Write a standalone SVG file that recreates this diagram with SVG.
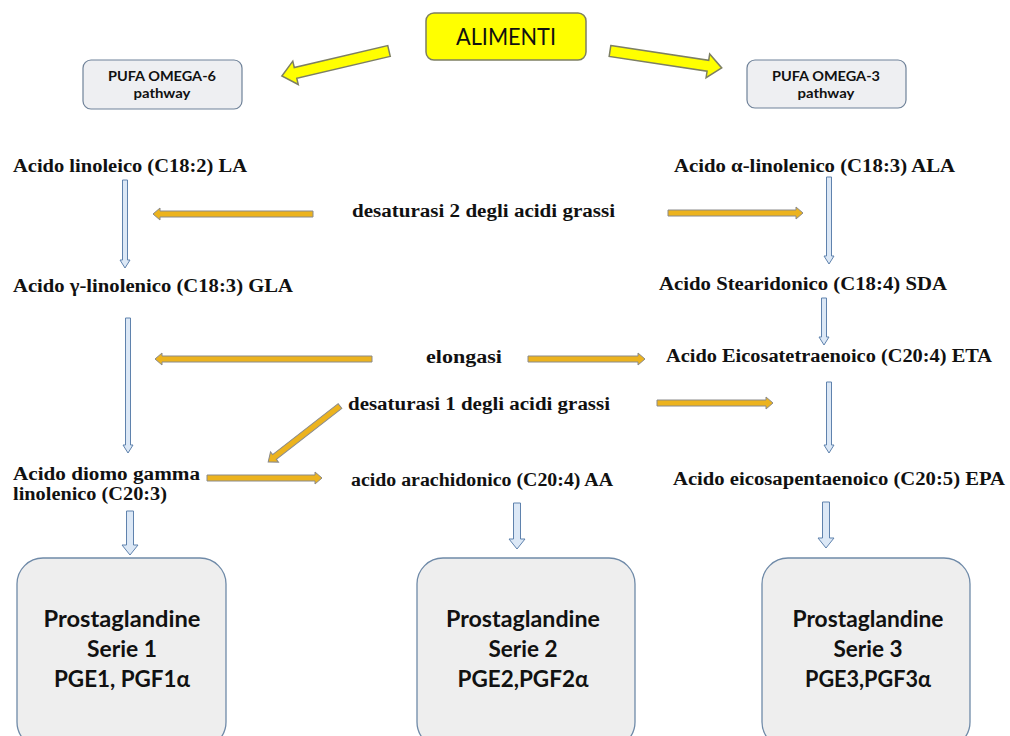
<svg xmlns="http://www.w3.org/2000/svg" width="1010" height="736" viewBox="0 0 1010 736">
<style>
.bg{fill:#ffffff}
.yel{fill:#ffff00;stroke:#7d7f62;stroke-width:1.5}
.pufa{fill:#eeeff2;stroke:#6f8299;stroke-width:1.2}
.pg{fill:#eeeeee;stroke:#6f8aa8;stroke-width:1.3}
.blue{fill:#dce8f6;stroke:#5f82ad;stroke-width:1}
.org{fill:#ecb31e;stroke:#8a8a8a;stroke-width:1}
.ser{font-family:"Liberation Serif","Times New Roman",serif;font-weight:bold;font-size:18.5px;fill:#111}
.cal{font-family:Lato,"Open Sans",sans-serif;fill:#111;text-anchor:middle}
.pgt{font-size:22px;font-weight:bold}
.pt{font-size:14px;font-weight:bold}
.al{font-size:23px}
</style>
<rect class="bg" x="0" y="0" width="1010" height="736"/>

<g id="alimenti">
<rect class="yel" x="426" y="13" width="160" height="47" rx="8"/>
<text class="cal al" x="506" y="45" textLength="100" lengthAdjust="spacingAndGlyphs">ALIMENTI</text>
</g>
<g id="pufa6">
<rect class="pufa" x="83" y="60" width="159" height="49" rx="8"/>
<text class="cal pt" x="162" y="81" textLength="108" lengthAdjust="spacingAndGlyphs">PUFA OMEGA-6</text>
<text class="cal pt" x="162" y="98" textLength="57" lengthAdjust="spacingAndGlyphs">pathway</text>
</g>
<g id="pufa3">
<rect class="pufa" x="747" y="60" width="159" height="48" rx="8"/>
<text class="cal pt" x="826" y="81" textLength="108" lengthAdjust="spacingAndGlyphs">PUFA OMEGA-3</text>
<text class="cal pt" x="826" y="98" textLength="57" lengthAdjust="spacingAndGlyphs">pathway</text>
</g>

<g id="la"><text class="ser" x="13" y="172" textLength="234" lengthAdjust="spacingAndGlyphs">Acido linoleico (C18:2) LA</text></g>
<g id="gla"><text class="ser" x="13" y="292" textLength="280" lengthAdjust="spacingAndGlyphs">Acido γ-linolenico (C18:3) GLA</text></g>
<g id="dgla">
<text class="ser" x="13" y="480" textLength="187" lengthAdjust="spacingAndGlyphs">Acido diomo gamma</text>
<text class="ser" x="13" y="500" textLength="154" lengthAdjust="spacingAndGlyphs">linolenico (C20:3)</text>
</g>
<g id="aa"><text class="ser" x="351" y="486" textLength="262" lengthAdjust="spacingAndGlyphs">acido arachidonico (C20:4) AA</text></g>
<g id="ala"><text class="ser" x="674" y="172" textLength="281" lengthAdjust="spacingAndGlyphs">Acido α-linolenico (C18:3) ALA</text></g>
<g id="sda"><text class="ser" x="659" y="290" textLength="288" lengthAdjust="spacingAndGlyphs">Acido Stearidonico (C18:4) SDA</text></g>
<g id="eta"><text class="ser" x="666" y="362" textLength="326" lengthAdjust="spacingAndGlyphs">Acido Eicosatetraenoico (C20:4) ETA</text></g>
<g id="epa"><text class="ser" x="673" y="485" textLength="332" lengthAdjust="spacingAndGlyphs">Acido eicosapentaenoico (C20:5) EPA</text></g>
<g id="des2"><text class="ser" x="352" y="217" textLength="263" lengthAdjust="spacingAndGlyphs">desaturasi 2 degli acidi grassi</text></g>
<g id="elong"><text class="ser" x="426" y="363" textLength="76" lengthAdjust="spacingAndGlyphs">elongasi</text></g>
<g id="des1"><text class="ser" x="348" y="410" textLength="262" lengthAdjust="spacingAndGlyphs">desaturasi 1 degli acidi grassi</text></g>

<g id="pg1">
<rect class="pg" x="17" y="558" width="209" height="190" rx="26"/>
<text class="cal pgt" x="122" y="627" textLength="157" lengthAdjust="spacingAndGlyphs">Prostaglandine</text>
<text class="cal pgt" x="122" y="657" textLength="70" lengthAdjust="spacingAndGlyphs">Serie 1</text>
<text class="cal pgt" x="122" y="687" textLength="136" lengthAdjust="spacingAndGlyphs">PGE1, PGF1α</text>
</g>
<g id="pg2">
<rect class="pg" x="417" y="558" width="218" height="190" rx="26"/>
<text class="cal pgt" x="523" y="627" textLength="154" lengthAdjust="spacingAndGlyphs">Prostaglandine</text>
<text class="cal pgt" x="523" y="657" textLength="69" lengthAdjust="spacingAndGlyphs">Serie 2</text>
<text class="cal pgt" x="523" y="687" textLength="131" lengthAdjust="spacingAndGlyphs">PGE2,PGF2α</text>
</g>
<g id="pg3">
<rect class="pg" x="762" y="558" width="208" height="190" rx="26"/>
<text class="cal pgt" x="868" y="627" textLength="151" lengthAdjust="spacingAndGlyphs">Prostaglandine</text>
<text class="cal pgt" x="868" y="657" textLength="69" lengthAdjust="spacingAndGlyphs">Serie 3</text>
<text class="cal pgt" x="868" y="687" textLength="126" lengthAdjust="spacingAndGlyphs">PGE3,PGF3α</text>
</g>

<g id="connectors">
<polygon class="yel" transform="translate(389,51) rotate(166.85)" points="0,-5.5 96,-5.5 96,-12 110,0 96,12 96,5.5 0,5.5"/>
<polygon class="yel" transform="translate(610,51) rotate(8.6)" points="0,-5.5 99,-5.5 99,-12 113,0 99,12 99,5.5 0,5.5"/>

<polygon class="blue" points="122.5,180 127.5,180 127.5,260 130,260 125,268 120,260 122.5,260"/>
<polygon class="blue" points="125.5,318 130.5,318 130.5,445 133,445 128,453 123,445 125.5,445"/>
<polygon class="blue" points="826.5,177 831.5,177 831.5,256 834,256 829,264 824,256 826.5,256"/>
<polygon class="blue" points="821.5,298 826.5,298 826.5,337 829,337 824,345 819,337 821.5,337"/>
<polygon class="blue" points="826.5,382 831.5,382 831.5,445 834,445 829,453 824,445 826.5,445"/>
<polygon class="blue" points="126.5,511 133.5,511 133.5,545 138,545 130,555 122,545 126.5,545"/>
<polygon class="blue" points="513.5,503 520.5,503 520.5,539 525,539 517,549 509,539 513.5,539"/>
<polygon class="blue" points="822.5,502 829.5,502 829.5,538 834,538 826,548 818,538 822.5,538"/>

<polygon class="org" points="313,211 160,211 160,208 153,214 160,220 160,217 313,217"/>
<polygon class="org" points="668,210 796,210 796,207 803,213 796,219 796,216 668,216"/>
<polygon class="org" points="372,356 162,356 162,353 155,359 162,365 162,362 372,362"/>
<polygon class="org" points="528,356 638,356 638,353 645,359 638,365 638,362 528,362"/>
<polygon class="org" points="657,400 766,400 766,397 773,403 766,409 766,406 657,406"/>
<polygon class="org" points="207,475 315,475 315,472 322,478 315,484 315,481 207,481"/>
<polygon class="org" transform="translate(340,406) rotate(142.1)" points="0,-3 83,-3 83,-6.5 91,0 83,6.5 83,3 0,3"/>
</g>
</svg>
